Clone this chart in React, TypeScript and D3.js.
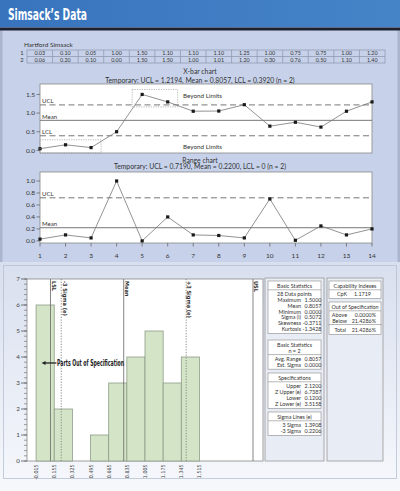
import * as d3 from "d3";

const subgroupA = [0.03, 0.1, 0.05, 1.0, 1.5, 1.1, 1.1, 1.1, 1.25, 1.0, 0.75, 0.75, 1.0, 1.2];
const subgroupB = [0.06, 0.2, 0.1, 0.0, 1.5, 1.5, 1.0, 1.01, 1.2, 0.3, 0.76, 0.5, 1.1, 1.4];
const sampleIds = [1, 2, 3, 4, 5, 6, 7, 8, 9, 10, 11, 12, 13, 14];

const xbarTicks = [0, 0.5, 1.0, 1.5];
const rangeTicks = [0, 0.2, 0.4, 0.6, 0.8, 1.0];
const xbarLimits = [
  { label: "UCL", value: 1.2194, dashed: true },
  { label: "Mean", value: 0.8057, dashed: false },
  { label: "LCL", value: 0.392, dashed: true },
];
const rangeLimits = [
  { label: "UCL", value: 0.719, dashed: true },
  { label: "Mean", value: 0.22, dashed: false },
];
const beyondGroups = [
  [1, 3],
  [5, 6],
];

const binEdges = [-0.015, 0.155, 0.325, 0.495, 0.665, 0.835, 1.005, 1.175, 1.345, 1.515];
const countTicks = [0, 1, 2, 3, 4, 5, 6, 7];
const specMarkers = [
  { label: "LSL", value: 0.12, dotted: false },
  { label: "-3 Sigma (e)", value: 0.2206, dotted: true },
  { label: "Mean", value: 0.8057, dotted: false },
  { label: "+3 Sigma (e)", value: 1.3908, dotted: true },
  { label: "USL", value: 2.12, dotted: false },
];

const basicStats = [
  ["Maximum", "1.5000"],
  ["Mean", "0.8057"],
  ["Minimum", "0.0000"],
  ["Sigma (i)", "0.5072"],
  ["Skewness", "-0.3711"],
  ["Kurtosis", "-1.3428"],
];
const subgroupStats = [
  ["Avg. Range", "0.8057"],
  ["Est. Sigma", "0.0000"],
];
const specStats = [
  ["Upper", "2.1200"],
  ["Z Upper (e)", "6.7387"],
  ["Lower", "0.1200"],
  ["Z Lower (e)", "3.5158"],
];
const sigmaStats = [
  ["3 Sigma", "1.3908"],
  ["-3 Sigma", "0.2206"],
];
const capability = [["CpK", "1.1719"]];
const outOfSpec = [
  ["Above", "0.0000%"],
  ["Below", "21.4286%"],
];
const outTotal = ["Total", "21.4286%"];

const SANS = "Lato, 'Open Sans', sans-serif";
const NARROW = "'Liberation Sans Narrow', 'DejaVu Sans Condensed', sans-serif";
const TXT = "#333";

const plotL = 40;
const plotR = 372;
const xs = d3.scalePoint<number>().domain(sampleIds).range([plotL, plotR]);
const tableX = d3.scaleBand<number>().domain(sampleIds).range([27, 385]);

function ControlChart({
  values,
  y,
  ticks,
  limits,
  tickFmt,
}: {
  values: number[];
  y: d3.ScaleLinear<number, number>;
  ticks: number[];
  limits: { label: string; value: number; dashed: boolean }[];
  tickFmt: (v: number) => string;
}) {
  const [bottom, top] = y.range();
  const path = d3
    .line<number>()
    .x((_, i) => xs(sampleIds[i])!)
    .y((d) => y(d))(values);
  return (
    <g>
      <rect x={plotL} y={top} width={plotR - plotL} height={bottom - top} fill="#fff" stroke="#888" strokeWidth={0.8} />
      {ticks.map((t) => (
        <g key={t}>
          <line x1={plotL - 3.5} x2={plotL} y1={y(t)} y2={y(t)} stroke="#666" strokeWidth={0.8} />
          <text x={plotL - 5} y={y(t) + 2.2} fontSize={6.5} textAnchor="end" fill={TXT} fontFamily={SANS}>
            {tickFmt(t)}
          </text>
        </g>
      ))}
      {limits.map((l) => (
        <g key={l.label}>
          <line
            x1={plotL}
            x2={plotR}
            y1={y(l.value)}
            y2={y(l.value)}
            stroke="#777"
            strokeWidth={1}
            strokeDasharray={l.dashed ? "6,3.5" : undefined}
          />
          <text x={plotL + 2} y={y(l.value) - 1.8} fontSize={6} fill={TXT} fontFamily={SANS}>
            {l.label}
          </text>
        </g>
      ))}
      <path d={path ?? ""} fill="none" stroke="#777" strokeWidth={0.8} />
      {values.map((v, i) => (
        <rect key={i} x={xs(sampleIds[i])! - 1.6} y={y(v) - 1.6} width={3.2} height={3.2} fill="#1a1a1a" />
      ))}
    </g>
  );
}

function StatBox({
  x,
  w,
  y,
  headers,
  rows,
  rowStep,
  labelRight,
  valueRight,
  centered,
}: {
  x: number;
  w: number;
  y: number;
  headers: string[];
  rows: string[][];
  rowStep: number;
  labelRight: number;
  valueRight: number;
  centered?: string;
}) {
  const headH = 3 + headers.length * 5.8;
  const bodyStart = y + headH;
  const nRows = rows.length + (centered ? 1 : 0);
  const bodyH = nRows * rowStep + 3;
  return (
    <g fontFamily={SANS} fontSize={5.4} fill={TXT}>
      <rect x={x} y={y} width={w} height={headH + bodyH} fill="#fff" stroke="#9a9a9a" strokeWidth={0.7} />
      <line x1={x} x2={x + w} y1={bodyStart} y2={bodyStart} stroke="#9a9a9a" strokeWidth={0.7} />
      {headers.map((h, i) => (
        <text key={h} x={x + w / 2} y={y + 7 + i * 5.8} textAnchor="middle">
          {h}
        </text>
      ))}
      {centered && (
        <text x={x + w / 2} y={bodyStart + 6.3} textAnchor="middle">
          {centered}
        </text>
      )}
      {rows.map((r, i) => {
        const by = bodyStart + 6.3 + (i + (centered ? 1 : 0)) * rowStep;
        return (
          <g key={r[0]}>
            <text x={labelRight} y={by} textAnchor="end">
              {r[0]}
            </text>
            <text x={valueRight} y={by} textAnchor="end">
              {r[1]}
            </text>
          </g>
        );
      })}
    </g>
  );
}

export default function App() {
  const xbar = subgroupA.map((a, i) => (a + subgroupB[i]) / 2);
  const ranges = subgroupA.map((a, i) => Math.abs(a - subgroupB[i]));

  const yX = d3.scaleLinear().domain([-0.07, 1.78]).range([153, 84]);
  const yR = d3.scaleLinear().domain([-0.035, 1.15]).range([243, 172]);

  // histogram
  const hx = d3.scaleLinear().domain([-0.1, 2.11]).range([27, 263]);
  const hy = d3.scaleLinear().domain([0, 7]).range([461, 279]);
  const allValues = subgroupA.concat(subgroupB);
  const bins = d3
    .bin()
    .domain([binEdges[0], binEdges[binEdges.length - 1]])
    .thresholds(binEdges.slice(1, -1))(allValues);
  const minorTicks = d3.range(0, 7.001, 0.2);
  const [hL, hR] = hx.range();
  const [hB, hT] = hy.range();
  const lslX = hx(specMarkers[0].value);
  const partsY = hy(3.77);

  const ucl = xbarLimits[0].value;
  const lcl = xbarLimits[2].value;

  return (
    <svg
      width={400}
      height={491}
      style={{ position: "absolute", left: 0, top: 0, display: "block" }}
      fontFamily={SANS}
    >
      <defs>
        <linearGradient id="lower" x1="0" y1="0" x2="0" y2="1">
          <stop offset="0" stopColor="#d8dfee" />
          <stop offset="1" stopColor="#f6f8fc" />
        </linearGradient>
        <linearGradient id="titlebar" x1="0" y1="0" x2="1" y2="0">
          <stop offset="0" stopColor="#3874bd" />
          <stop offset="1" stopColor="#4684c8" />
        </linearGradient>
      </defs>
      <rect x={0} y={0} width={400} height={491} fill="#f3f5fa" />
      <rect x={0} y={30} width={400} height={232} fill="#c7d2ea" />
      <rect x={0} y={30} width={2.5} height={232} fill="#aab5cf" />
      <rect x={397.5} y={30} width={2.5} height={232} fill="#aab5cf" />
      <rect x={0} y={262} width={400} height={229} fill="url(#lower)" />
      <rect x={3.5} y={265.5} width={393} height={213} fill="none" stroke="#b9c1d2" strokeWidth={0.8} />

      {/* title bar */}
      <rect x={0} y={0} width={400} height={27.5} fill="url(#titlebar)" />
      <rect x={0} y={27.5} width={400} height={3} fill="#1d2030" />
      <text
        x={8}
        y={19.5}
        fill="#fff"
        fontFamily={NARROW}
        fontWeight="bold"
        fontSize={15}
        textLength={79}
        lengthAdjust="spacingAndGlyphs"
      >
        Simsack’s Data
      </text>

      {/* data table */}
      <text x={24} y={46.5} fontSize={6.5} fill={TXT}>
        Hartford Simsack
      </text>
      {[subgroupA, subgroupB].map((row, r) => (
        <g key={r}>
          <text x={22} y={55.3 + r * 6.5} fontSize={5.8} textAnchor="middle" fill={TXT}>
            {r + 1}
          </text>
          {row.map((v, i) => (
            <text
              key={i}
              x={tableX(sampleIds[i])! + tableX.bandwidth() / 2}
              y={55.3 + r * 6.5}
              fontSize={5.4}
              textAnchor="middle"
              fill={TXT}
            >
              {v.toFixed(2)}
            </text>
          ))}
        </g>
      ))}
      <rect x={tableX.range()[0]} y={50} width={tableX.range()[1] - tableX.range()[0]} height={13} fill="none" stroke="#8a93a8" strokeWidth={0.7} />
      <line x1={tableX.range()[0]} x2={tableX.range()[1]} y1={56.5} y2={56.5} stroke="#8a93a8" strokeWidth={0.7} />
      {sampleIds.slice(1).map((id) => (
        <line key={id} x1={tableX(id)} x2={tableX(id)} y1={50} y2={63} stroke="#8a93a8" strokeWidth={0.7} />
      ))}

      {/* X-bar chart */}
      <text x={200} y={73.5} fontSize={6.8} textAnchor="middle" fill={TXT}>
        X-bar chart
      </text>
      <text x={200} y={82.5} fontSize={6.8} textAnchor="middle" fill={TXT}>
        Temporary: UCL = 1.2194, Mean = 0.8057, LCL = 0.3920 (n = 2)
      </text>
      <ControlChart values={xbar} y={yX} ticks={xbarTicks} limits={xbarLimits} tickFmt={d3.format(".1f")} />
      {beyondGroups.map(([a, b]) => {
        const vals = xbar.slice(a - 1, b);
        const x0 = Math.max(plotL, xs(a)! - 10);
        const x1 = xs(b)! + 10;
        const y0 = yX(d3.max(vals)!) - 5;
        const y1 = Math.min(yX.range()[0], yX(d3.min(vals)!) + 5);
        return (
          <rect
            key={a}
            x={x0}
            y={y0}
            width={x1 - x0}
            height={y1 - y0}
            fill="none"
            stroke="#999"
            strokeWidth={0.7}
            strokeDasharray="1.2,1.2"
          />
        );
      })}
      <text x={183} y={yX(ucl) - 7} fontSize={6.3} fill={TXT}>
        Beyond Limits
      </text>
      <text x={183} y={yX(lcl) + 13} fontSize={6.3} fill={TXT}>
        Beyond Limits
      </text>

      {/* Range chart */}
      <text x={200} y={162.5} fontSize={6.8} textAnchor="middle" fill={TXT}>
        Range chart
      </text>
      <text x={200} y={169} fontSize={6.8} textAnchor="middle" fill={TXT}>
        Temporary: UCL = 0.7190, Mean = 0.2200, LCL = 0 (n = 2)
      </text>
      <ControlChart values={ranges} y={yR} ticks={rangeTicks} limits={rangeLimits} tickFmt={d3.format(".1f")} />
      {sampleIds.map((id) => (
        <g key={id}>
          <line x1={xs(id)} x2={xs(id)} y1={243} y2={246.5} stroke="#666" strokeWidth={0.8} />
          <text x={xs(id)} y={257.5} fontSize={6.5} textAnchor="middle" fill={TXT}>
            {id}
          </text>
        </g>
      ))}

      {/* histogram */}
      <rect x={hL} y={hT} width={hR - hL} height={hB - hT} fill="#fff" stroke="#888" strokeWidth={0.8} />
      {bins
        .filter((b) => b.length > 0)
        .map((b, i) => (
          <rect
            key={i}
            x={hx(b.x0!)}
            y={hy(b.length)}
            width={hx(b.x1!) - hx(b.x0!)}
            height={hB - hy(b.length)}
            fill="#d3e5c6"
            stroke="#8e9c88"
            strokeWidth={0.8}
          />
        ))}
      {minorTicks.map((t) => (
        <line key={t} x1={hL - 3} x2={hL} y1={hy(t)} y2={hy(t)} stroke="#666" strokeWidth={0.6} />
      ))}
      {countTicks.map((t) => (
        <g key={t}>
          <line x1={hL - 6} x2={hL} y1={hy(t)} y2={hy(t)} stroke="#555" strokeWidth={0.8} />
          <text x={18} y={hy(t) + 2.2} fontSize={6.3} textAnchor="middle" fill="#444">
            {t}
          </text>
        </g>
      ))}
      {binEdges.map((e) => (
        <text
          key={e}
          transform={`translate(${hx(e) + 2},${hB + 3.5}) rotate(-90)`}
          fontSize={5.3}
          textAnchor="end"
          fill="#444"
          fontFamily={NARROW}
        >
          {e.toFixed(3)}
        </text>
      ))}
      {specMarkers.map((m) => {
        const mx = Math.min(hx(m.value), hR - 10);
        return (
          <g key={m.label}>
            <line
              x1={mx}
              x2={mx}
              y1={hT}
              y2={hB}
              stroke={m.dotted ? "#888" : "#666"}
              strokeWidth={m.dotted ? 1 : 0.8}
              strokeDasharray={m.dotted ? "1.2,1.5" : undefined}
            />
            <text
              transform={`translate(${mx + 1.3},${hT + 2}) rotate(90)`}
              fontSize={5.6}
              fontWeight="bold"
              fontFamily={NARROW}
              fill={TXT}
            >
              {m.label}
            </text>
          </g>
        );
      })}
      <line x1={hx(binEdges[0]) + 8} x2={lslX + 6} y1={partsY} y2={partsY} stroke="#222" strokeWidth={1.3} />
      <polygon
        points={`${hx(binEdges[0]) + 5.5},${partsY} ${hx(binEdges[0]) + 9.5},${partsY - 2} ${hx(binEdges[0]) + 9.5},${partsY + 2}`}
        fill="#222"
      />
      <text
        x={lslX + 6.5}
        y={partsY + 2.8}
        fontSize={8}
        fontWeight="bold"
        fontFamily={NARROW}
        fill="#222"
        textLength={67}
        lengthAdjust="spacingAndGlyphs"
      >
        Parts Out of Specification
      </text>

      {/* statistics panels */}
      <rect x={265} y={278} width={59} height={183} fill="#e8ecf4" stroke="#999" strokeWidth={0.8} />
      <rect x={327} y={278} width={56} height={183} fill="#e8ecf4" stroke="#999" strokeWidth={0.8} />
      <StatBox
        x={268}
        w={53}
        y={281}
        headers={["Basic Statistics"]}
        centered="28 Data points"
        rows={basicStats}
        rowStep={5.8}
        labelRight={301}
        valueRight={321.5}
      />
      <StatBox
        x={268}
        w={53}
        y={340}
        headers={["Basic Statistics", "n = 2"]}
        rows={subgroupStats}
        rowStep={5.8}
        labelRight={301}
        valueRight={321.5}
      />
      <StatBox
        x={268}
        w={53}
        y={373}
        headers={["Specifications"]}
        rows={specStats}
        rowStep={5.9}
        labelRight={301}
        valueRight={321.5}
      />
      <StatBox
        x={268}
        w={53}
        y={412}
        headers={["Sigma Lines (e)"]}
        rows={sigmaStats}
        rowStep={5.8}
        labelRight={301}
        valueRight={321.5}
      />
      <StatBox
        x={329}
        w={52}
        y={281}
        headers={["Capability Indexes"]}
        rows={capability}
        rowStep={5.8}
        labelRight={347}
        valueRight={371}
      />
      <StatBox
        x={329}
        w={52}
        y={302}
        headers={["Out of Specification"]}
        rows={outOfSpec}
        rowStep={5.8}
        labelRight={347}
        valueRight={376}
      />
      <g fontFamily={SANS} fontSize={5.4} fill={TXT}>
        <rect x={329} y={324.4} width={52} height={10} fill="#fff" stroke="#9a9a9a" strokeWidth={0.7} />
        <text x={346} y={331.6} textAnchor="end">
          {outTotal[0]}
        </text>
        <text x={376} y={331.6} textAnchor="end">
          {outTotal[1]}
        </text>
      </g>
    </svg>
  );
}
